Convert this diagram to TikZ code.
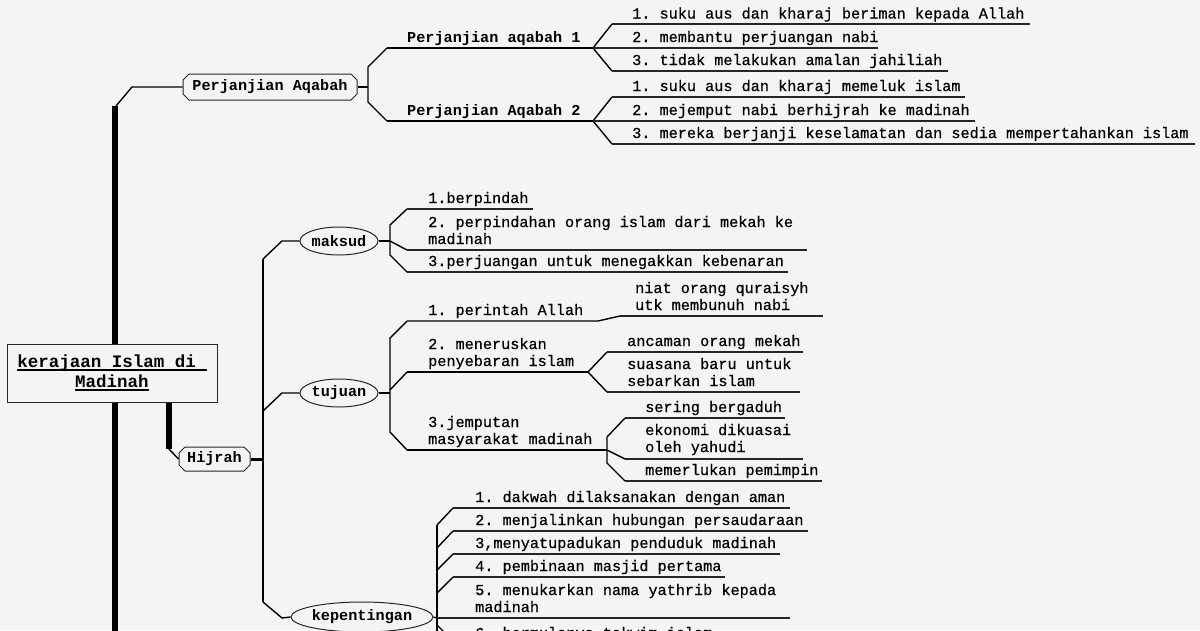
\documentclass[tikz,border=0pt]{standalone}
\usepackage{fontspec}
\setmainfont{Liberation Mono}
\newfontfamily\leaffont{Liberation Mono}[FakeBold=0.6]
\usetikzlibrary{shapes.misc,shapes.geometric}
\definecolor{bgc}{HTML}{F4F4F4}
\newcommand{\myul}[1]{\setbox0\hbox{#1}\rlap{\rule[-3.5pt]{\wd0}{1.8pt}}\box0}
\frenchspacing
\begin{document}
\begin{tikzpicture}[x=1pt,y=-1pt,
 lbl/.style={font=\fontsize{15.2}{17}\selectfont\bfseries},
 leaf/.style={anchor=base west,inner sep=0pt,align=left,font=\fontsize{15.2}{17}\selectfont\leaffont},
 sub/.style={anchor=base west,inner sep=0pt,font=\fontsize{15.2}{17}\selectfont\bfseries},
 chbox/.style={chamfered rectangle,chamfered rectangle xsep=3pt,chamfered rectangle ysep=3pt,draw=black!85,line width=1pt,fill=bgc,inner sep=0pt,lbl},
 oval/.style={ellipse,draw=black!85,line width=1pt,fill=bgc,inner sep=0pt,lbl},
 br/.style={line width=1.4pt},
 ul/.style={line width=1.5pt,black!85},
 line join=miter
]
\useasboundingbox (0,0) rectangle (1200,630);
\fill[bgc] (0,0) rectangle (1200,630);
\clip (0,0) rectangle (1200,630);

% ---------- main trunk ----------
\coordinate (mtop) at (115,106);
\coordinate (mbot) at (115,640);
\draw[line width=6pt] (mbot) -- (mtop);

% ---------- Perjanjian Aqabah ----------
\node[chbox,minimum width=174pt,minimum height=26pt] (pa) at (270,87) {Perjanjian Aqabah};
\coordinate (pak) at (132,87);
\draw[br] (116,106) -- (pak) -- (pa.west);
\coordinate (paj) at (368,87);
\draw[br] (pa.east) -- (paj);
\coordinate (pa1s) at (387,48);
\coordinate (pa2s) at (387,121);
\draw[br] (pa1s) -- (368,67) -- (368,102) -- (pa2s);
\coordinate (pa1j) at (593,48);
\coordinate (pa2j) at (593,121);
\draw[br] (pa1s) -- (pa1j);
\draw[br] (pa2s) -- (pa2j);
\node[sub] (pa1) at (407,42.5) {Perjanjian aqabah 1};
\node[sub] (pa2) at (407,115.5) {Perjanjian Aqabah 2};

\draw[br] (612,24) -- (pa1j) -- (612,71);
\draw[ul] (612,24) -- (1030,24);
\draw[ul] (pa1j) -- (878,48);
\draw[ul] (612,71) -- (948,71);
\node[leaf] (a11) at (632,18.5) {1. suku aus dan kharaj beriman kepada Allah};
\node[leaf] (a12) at (632,42) {2. membantu perjuangan nabi};
\node[leaf] (a13) at (632,65) {3. tidak melakukan amalan jahiliah};

\draw[br] (612,97) -- (pa2j) -- (612,144);
\draw[ul] (612,97) -- (965,97);
\draw[ul] (pa2j) -- (975,121);
\draw[ul] (612,144) -- (1195,144);
\node[leaf] (a21) at (632,91) {1. suku aus dan kharaj memeluk islam};
\node[leaf] (a22) at (632,115) {2. mejemput nabi berhijrah ke madinah};
\node[leaf] (a23) at (632,138) {3. mereka berjanji keselamatan dan sedia mempertahankan islam};

% ---------- root ----------
\node[draw=black!85,fill=bgc,line width=1pt,minimum width=210pt,minimum height=58pt,inner sep=0pt,align=center,
  font=\fontsize{17.5}{20}\selectfont\bfseries] (root) at (112,373) {\myul{kerajaan Islam di\ }\\\myul{Madinah}};

% ---------- Hijrah ----------
\node[chbox,minimum width=71pt,minimum height=24pt] (hij) at (214.5,459) {Hijrah};
\coordinate (hk) at (169,449);
\draw[line width=6pt] ([xshift=57pt]root.south) -- (hk);
\draw[br] (hk) -- (hij.west);
\coordinate (hj) at (263,459);
\draw[line width=3pt] (hij.east) -- (hj);
\draw[br] (263,259) -- (263,602);

\node[oval,minimum width=78pt,minimum height=28pt] (mak) at (339,241) {maksud};
\node[oval,minimum width=78pt,minimum height=28pt] (tuj) at (339,393) {tujuan};
\node[oval,minimum width=124pt,minimum height=30pt] (kep) at (362,617) {kepentingan};
\draw[br] (263,259) -- (282,241) -- (mak.west);
\draw[br] (263,411) -- (282,393) -- (tuj.west);
\draw[br] (263,602) -- (282,618) -- (kep.west);

% ---------- maksud ----------
\coordinate (mj) at (390,241);
\draw[br] (mak.east) -- (mj);
\draw[br] (407,209) -- (390,225) -- (390,255) -- (407,272);
\draw[br] (mj) -- (407,250);
\draw[ul] (407,209) -- (533,209);
\draw[ul] (407,250) -- (807,250);
\draw[ul] (407,272) -- (788,272);
\node[leaf] (m1) at (428,203) {1.berpindah};
\node[leaf] (m2) at (428,244) {2. perpindahan orang islam dari mekah ke\\madinah};
\node[leaf] (m3) at (428,266) {3.perjuangan untuk menegakkan kebenaran};

% ---------- tujuan ----------
\coordinate (tj) at (390,393);
\draw[br] (tuj.east) -- (tj);
\draw[br] (407,321) -- (390,338) -- (390,432) -- (407,450);
\draw[br] (390,390) -- (407,372);

\coordinate (t1j) at (598,321);
\draw[br] (407,321) -- (t1j) -- (620,316);
\draw[ul] (620,316) -- (823,316);
\node[leaf] (t1) at (428,315) {1. perintah Allah};
\node[leaf] (t11) at (635,310) {niat orang quraisyh\\utk membunuh nabi};

\coordinate (t2j) at (588,372);
\draw[br] (407,372) -- (t2j);
\draw[br] (607,352) -- (t2j) -- (607,392);
\draw[ul] (607,352) -- (803,352);
\draw[ul] (607,392) -- (800,392);
\node[leaf] (t2) at (428,366) {2. meneruskan\\penyebaran islam};
\node[leaf] (t21) at (627,346) {ancaman orang mekah};
\node[leaf] (t22) at (627,386) {suasana baru untuk\\sebarkan islam};

\coordinate (t3j) at (607,450);
\draw[br] (407,450) -- (t3j);
\draw[br] (625,418) -- (607,437) -- (607,463) -- (625,481);
\draw[br] (t3j) -- (625,459);
\draw[ul] (625,418) -- (785,418);
\draw[ul] (625,459) -- (803,459);
\draw[ul] (625,481) -- (822,481);
\node[leaf] (t3) at (428,444) {3.jemputan\\masyarakat madinah};
\node[leaf] (t31) at (645,412) {sering bergaduh};
\node[leaf] (t32) at (645,452) {ekonomi dikuasai\\oleh yahudi};
\node[leaf] (t33) at (645,475) {memerlukan pemimpin};

% ---------- kepentingan ----------
\coordinate (kj) at (437,618);
\draw[br] (kep.east) -- (kj);
\draw[br] (437,525) -- (437,640);
\draw[br] (437,525) -- (453,508);
\draw[br] (437,548) -- (453,531);
\draw[br] (437,570) -- (453,554);
\draw[br] (437,593) -- (453,577);
\draw[br] (437,625) -- (453,641);
\draw[ul] (453,508) -- (790,508);
\draw[ul] (453,531) -- (808,531);
\draw[ul] (453,554) -- (780,554);
\draw[ul] (453,577) -- (725,577);
\draw[ul] (kj) -- (790,618);
\node[leaf] (k1) at (475,502) {1. dakwah dilaksanakan dengan aman};
\node[leaf] (k2) at (475,525) {2. menjalinkan hubungan persaudaraan};
\node[leaf] (k3) at (475,548) {3,menyatupadukan penduduk madinah};
\node[leaf] (k4) at (475,571) {4. pembinaan masjid pertama};
\node[leaf] (k5) at (475,612) {5. menukarkan nama yathrib kepada\\madinah};
\node[leaf] (k6) at (475,638) {6. bermulanya takwim islam};
\end{tikzpicture}
\end{document}
